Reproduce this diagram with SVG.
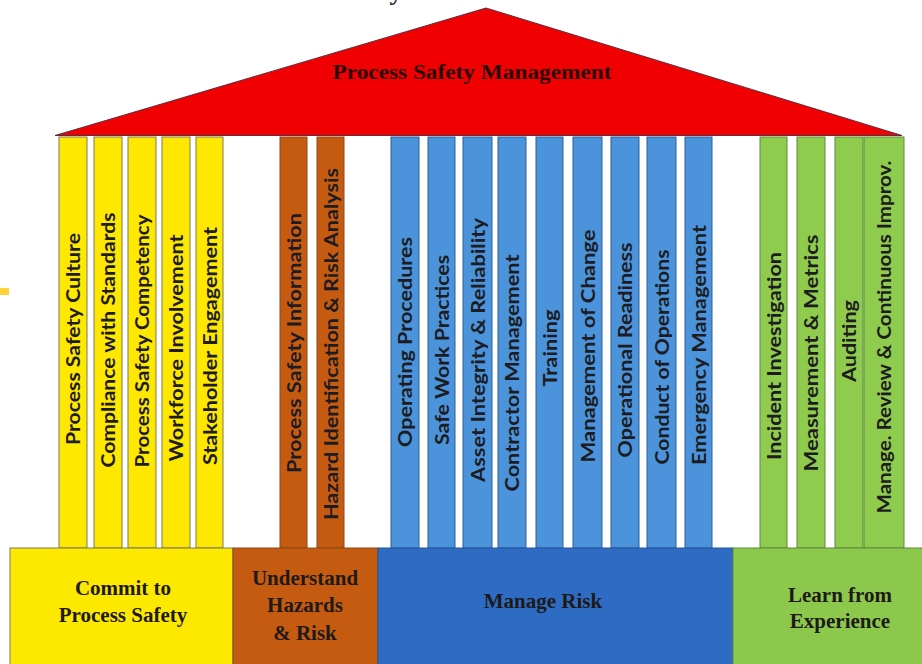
<svg xmlns="http://www.w3.org/2000/svg" width="922" height="664" viewBox="0 0 922 664">
  <style>
    .pl { stroke-width: 1; }
    .py { fill: #ffe800; stroke: #7d7a5c; }
    .pb { fill: #c55a11; stroke: #8a4a1e; }
    .pu { fill: #4b93da; stroke: #2f5f96; }
    .pg { fill: #8fcb4c; stroke: #5d8a40; }
    .pt { font-family: Lato, "Open Sans", sans-serif; font-weight: 700; font-size: 18px; fill: #1c1c22; text-anchor: middle; dominant-baseline: central; }
    .bt { font-family: "Liberation Serif", serif; font-weight: 700; font-size: 21px; fill: #1d1a18; text-anchor: middle; }
    .base { stroke-width: 1; }
  </style>

  <rect width="922" height="664" fill="#ffffff"/>

  <!-- heading descender at the top edge and side mark -->
  <text x="396" y="0" font-family="Liberation Serif, serif" font-weight="700" font-size="26" fill="#262626" text-anchor="middle">y</text>
  <rect x="0" y="288" width="9" height="7" fill="#ffd23a"/>

  <!-- roof -->
  <g id="roof">
    <polygon points="55,135.5 486,8 902,135.5" fill="#f00000" stroke="#5a2f40" stroke-width="1" stroke-linejoin="round"/>
    <text x="472" y="79" font-family="Liberation Serif, serif" font-weight="700" font-size="20" fill="#2b0505" text-anchor="middle" textLength="279" lengthAdjust="spacingAndGlyphs">Process Safety Management</text>
  </g>

  <!-- pillars: Commit to Process Safety -->
  <g id="p-culture"><rect class="pl py" x="59" y="137" width="28" height="411"/><text class="pt" transform="translate(73,339) rotate(-90)" textLength="212" lengthAdjust="spacingAndGlyphs">Process Safety Culture</text></g>
  <g id="p-compliance"><rect class="pl py" x="94" y="137" width="28" height="411"/><text class="pt" transform="translate(108,340) rotate(-90)" textLength="255" lengthAdjust="spacingAndGlyphs">Compliance with Standards</text></g>
  <g id="p-competency"><rect class="pl py" x="128" y="137" width="28" height="411"/><text class="pt" transform="translate(142,341) rotate(-90)" textLength="253" lengthAdjust="spacingAndGlyphs">Process Safety Competency</text></g>
  <g id="p-workforce"><rect class="pl py" x="162" y="137" width="28" height="411"/><text class="pt" transform="translate(176,348) rotate(-90)" textLength="227" lengthAdjust="spacingAndGlyphs">Workforce Involvement</text></g>
  <g id="p-stakeholder"><rect class="pl py" x="196" y="137" width="27" height="411"/><text class="pt" transform="translate(209.5,346) rotate(-90)" textLength="238" lengthAdjust="spacingAndGlyphs">Stakeholder Engagement</text></g>

  <!-- pillars: Understand Hazards & Risk -->
  <g id="p-psi"><rect class="pl pb" x="280" y="137" width="27" height="411"/><text class="pt" transform="translate(293.5,343) rotate(-90)" textLength="260" lengthAdjust="spacingAndGlyphs">Process Safety Information</text></g>
  <g id="p-hira"><rect class="pl pb" x="317" y="137" width="27" height="411"/><text class="pt" transform="translate(330.5,344) rotate(-90)" textLength="352" lengthAdjust="spacingAndGlyphs">Hazard Identification &amp; Risk Analysis</text></g>

  <!-- pillars: Manage Risk -->
  <g id="p-procedures"><rect class="pl pu" x="391" y="137" width="28" height="411"/><text class="pt" transform="translate(405,342) rotate(-90)" textLength="210" lengthAdjust="spacingAndGlyphs">Operating Procedures</text></g>
  <g id="p-safework"><rect class="pl pu" x="428" y="137" width="27" height="411"/><text class="pt" transform="translate(441.5,350) rotate(-90)" textLength="190" lengthAdjust="spacingAndGlyphs">Safe Work Practices</text></g>
  <g id="p-asset"><rect class="pl pu" x="463" y="137" width="29" height="411"/><text class="pt" transform="translate(477.5,350) rotate(-90)" textLength="264" lengthAdjust="spacingAndGlyphs">Asset Integrity &amp; Reliability</text></g>
  <g id="p-contractor"><rect class="pl pu" x="498" y="137" width="28" height="411"/><text class="pt" transform="translate(512,373) rotate(-90)" textLength="237" lengthAdjust="spacingAndGlyphs">Contractor Management</text></g>
  <g id="p-training"><rect class="pl pu" x="536" y="137" width="27" height="411"/><text class="pt" transform="translate(549.5,348) rotate(-90)" textLength="77" lengthAdjust="spacingAndGlyphs">Training</text></g>
  <g id="p-moc"><rect class="pl pu" x="573" y="137" width="29" height="411"/><text class="pt" transform="translate(587.5,346) rotate(-90)" textLength="233" lengthAdjust="spacingAndGlyphs">Management of Change</text></g>
  <g id="p-readiness"><rect class="pl pu" x="611" y="137" width="28" height="411"/><text class="pt" transform="translate(625,350) rotate(-90)" textLength="215" lengthAdjust="spacingAndGlyphs">Operational Readiness</text></g>
  <g id="p-conduct"><rect class="pl pu" x="647" y="137" width="29" height="411"/><text class="pt" transform="translate(661.5,357) rotate(-90)" textLength="215" lengthAdjust="spacingAndGlyphs">Conduct of Operations</text></g>
  <g id="p-emergency"><rect class="pl pu" x="685" y="137" width="27" height="411"/><text class="pt" transform="translate(698.5,345) rotate(-90)" textLength="240" lengthAdjust="spacingAndGlyphs">Emergency Management</text></g>

  <!-- pillars: Learn from Experience -->
  <g id="p-incident"><rect class="pl pg" x="760" y="137" width="27" height="411"/><text class="pt" transform="translate(773.5,356) rotate(-90)" textLength="208" lengthAdjust="spacingAndGlyphs">Incident Investigation</text></g>
  <g id="p-metrics"><rect class="pl pg" x="797" y="137" width="28" height="411"/><text class="pt" transform="translate(811,353) rotate(-90)" textLength="237" lengthAdjust="spacingAndGlyphs">Measurement &amp; Metrics</text></g>
  <g id="p-auditing"><rect class="pl pg" x="835" y="137" width="28" height="411"/><text class="pt" transform="translate(849,341) rotate(-90)" textLength="82" lengthAdjust="spacingAndGlyphs">Auditing</text></g>
  <g id="p-review"><rect class="pl pg" x="864" y="137" width="40" height="411"/><text class="pt" transform="translate(884,337) rotate(-90)" textLength="353" lengthAdjust="spacingAndGlyphs">Manage. Review &amp; Continuous Improv.</text></g>

  <!-- foundation blocks -->
  <g id="b-commit">
    <rect class="base" x="10" y="548" width="223" height="117" fill="#fde800" stroke="#7d7a5c"/>
    <text class="bt" x="123" y="595">Commit to</text>
    <text class="bt" x="123" y="622">Process Safety</text>
  </g>
  <g id="b-understand">
    <rect class="base" x="233" y="548" width="145" height="117" fill="#c55a11" stroke="#8a4a1e"/>
    <text class="bt" x="305" y="585">Understand</text>
    <text class="bt" x="305" y="612">Hazards</text>
    <text class="bt" x="305" y="640">&amp; Risk</text>
  </g>
  <g id="b-manage">
    <rect class="base" x="378" y="548" width="355" height="117" fill="#2e6cc4" stroke="#24559a"/>
    <text class="bt" x="543" y="608">Manage Risk</text>
  </g>
  <g id="b-learn">
    <rect class="base" x="733" y="548" width="190" height="117" fill="#8cc84b" stroke="#5d8a40"/>
    <text class="bt" x="840" y="602">Learn from</text>
    <text class="bt" x="840" y="628">Experience</text>
  </g>

  <g id="connectors"/>
</svg>
